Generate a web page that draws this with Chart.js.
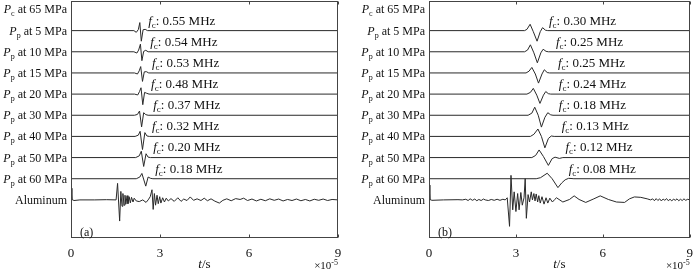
<!DOCTYPE html>
<html><head><meta charset="utf-8">
<script src="https://cdn.jsdelivr.net/npm/chart.js@4.4.0/dist/chart.umd.min.js"></script>
<style>
body{margin:0;background:#fff;}
#wrap{position:relative;width:700px;height:274px;}
canvas{position:absolute;top:0;}
</style>
</head><body>
<div id="wrap">
<canvas id="ca" width="350" height="274" style="left:0"></canvas>
<canvas id="cb" width="350" height="274" style="left:350px"></canvas>
</div>
<script>
// ---------- data ----------
const xTicks = [0, 3, 6, 9];
const rowSymbols = ['c', 'p', 'p', 'p', 'p', 'p', 'p', 'p', 'p'];
const rowPressures = [65, 5, 10, 15, 20, 30, 40, 50, 60];
const refName = 'Aluminum';
const fcA = ['0.55', '0.54', '0.53', '0.48', '0.37', '0.32', '0.20', '0.18'];
const fcB = ['0.30', '0.25', '0.25', '0.24', '0.18', '0.13', '0.12', '0.08'];

// panel (a) waveforms: [time (1e-5 s), normalised amplitude]
const a05 = [[0,0],[2.12,0],[2.2,-0.08],[2.27,0.05],[2.32,0.38],[2.37,-0.5],[2.43,0.04],[2.5,0.06],[2.58,0],[9,0]];
const a10 = [[0,0],[2.12,0],[2.22,-0.06],[2.28,0.08],[2.34,0.36],[2.39,-0.42],[2.45,0.02],[2.52,0.07],[2.6,0],[9,0]];
const a15 = [[0,0],[2.14,0],[2.24,-0.05],[2.3,0.1],[2.35,0.3],[2.41,-0.4],[2.47,0.05],[2.54,0.06],[2.62,0],[9,0]];
const a20 = [[0,0],[2.14,0],[2.25,-0.04],[2.31,0.12],[2.36,0.3],[2.42,-0.5],[2.48,0.08],[2.55,0.04],[2.63,0],[9,0]];
const a30 = [[0,0],[2.14,0],[2.24,0.04],[2.31,0.2],[2.38,-0.55],[2.45,0.12],[2.52,0.03],[2.6,0],[9,0]];
const a40 = [[0,0],[2.16,0],[2.27,0.06],[2.33,0.24],[2.41,-0.62],[2.49,0.18],[2.56,0.02],[2.64,0],[9,0]];
const a50 = [[0,0],[2.18,0],[2.3,0.08],[2.37,0.3],[2.45,-0.42],[2.53,0.18],[2.6,0.02],[2.68,0],[9,0]];
const a60 = [[0,0],[2.2,0],[2.32,0.08],[2.39,0.25],[2.52,-0.35],[2.6,0.08],[2.68,0.02],[2.76,0],[9,0]];
const aAl = [[0,0.55],[0.03,0.02],[0.1,-0.03],[0.3,0],[0.8,0],[1.2,0.01],[1.52,0],[1.57,0.78],[1.64,-1.0],[1.68,0.4],[1.72,-0.3],[1.75,0.3],[1.79,-0.25],[1.82,0.22],[1.85,-0.2],[1.89,0.2],[1.92,-0.18],[1.96,0.15],[2.0,-0.14],[2.04,0.12],[2.09,-0.1],[2.13,0.08],[2.2,-0.05],[2.3,-0.08],[2.42,0],[2.53,-0.12],[2.6,0],[2.67,0.15],[2.73,0.48],[2.77,-0.45],[2.81,0.3],[2.85,-0.25],[2.9,0.22],[2.94,-0.18],[2.99,0.15],[3.03,-0.15],[3.09,0.1],[3.15,-0.1],[3.21,0.08],[3.28,-0.05],[3.37,0.06],[3.48,-0.07],[3.6,0.1],[3.71,-0.07],[3.8,0.04],[3.91,-0.03],[4.02,0.14],[4.13,-0.02],[4.25,0.05],[4.38,-0.03],[4.49,0.08],[4.6,-0.04],[4.72,0.05],[4.85,-0.06],[5.0,-0.15],[5.12,-0.02],[5.25,0.05],[5.4,-0.04],[5.55,0.06],[5.7,0.02],[5.82,0.08],[5.95,-0.03],[6.1,0.04],[6.25,-0.05],[6.4,0.03],[6.55,-0.04],[6.7,0.05],[6.85,-0.02],[7.0,0.04],[7.15,-0.05],[7.3,0.02],[7.45,-0.03],[7.6,0.04],[7.75,-0.04],[7.9,0.02],[8.05,-0.05],[8.2,0.03],[8.35,-0.02],[8.5,0.04],[8.65,-0.03],[8.8,0.02],[9,0]];

// panel (b) waveforms
const b05 = [[0,0],[3.3,0],[3.38,0.06],[3.49,0.3],[3.6,-0.05],[3.73,-0.5],[3.84,-0.05],[3.92,0.14],[4.02,0.02],[4.1,0],[9,0]];
const b10 = [[0,0],[3.3,0],[3.4,0.08],[3.5,0.33],[3.62,-0.05],[3.74,-0.52],[3.86,-0.05],[3.94,0.12],[4.04,0.02],[4.12,0],[9,0]];
const b15 = [[0,0],[3.35,0],[3.45,0.08],[3.55,0.26],[3.67,-0.05],[3.78,-0.48],[3.9,-0.05],[3.98,0.15],[4.08,0.02],[4.16,0],[9,0]];
const b20 = [[0,0],[3.38,0],[3.5,0.08],[3.6,0.27],[3.72,-0.05],[3.83,-0.44],[3.95,-0.05],[4.03,0.12],[4.12,0.02],[4.2,0],[9,0]];
const b30 = [[0,0],[3.42,0],[3.55,0.1],[3.65,0.38],[3.77,0],[3.88,-0.56],[4.0,-0.1],[4.1,0.12],[4.2,0.02],[4.28,0],[9,0]];
const b40 = [[0,0],[3.5,0],[3.62,0.1],[3.76,0.35],[3.88,0],[4.0,-0.54],[4.12,-0.1],[4.22,0.02],[4.32,0],[9,0]];
const b50 = [[0,0],[3.55,0],[3.68,0.1],[3.8,0.36],[3.95,0.05],[4.12,-0.37],[4.25,-0.05],[4.35,0.02],[4.5,-0.04],[4.62,0],[9,0]];
const b60 = [[0,0],[3.7,0],[3.85,0.05],[4.08,0.26],[4.25,0],[4.45,-0.42],[4.58,-0.2],[4.7,-0.05],[4.82,0.02],[5.0,0],[9,0]];
const bAl = [[0,0.7],[0.03,0.02],[0.1,-0.02],[0.5,0],[1.0,0.01],[1.15,0],[1.27,0.03],[1.35,-0.03],[1.42,0.05],[1.5,-0.02],[1.58,0.04],[1.65,-0.04],[1.72,0.02],[1.8,-0.03],[1.88,0.04],[1.94,0],[2.05,-0.03],[2.15,0.02],[2.25,-0.02],[2.35,0.03],[2.45,-0.02],[2.55,0.03],[2.63,0],[2.7,0.1],[2.78,-1.25],[2.83,1.16],[2.89,-0.47],[2.94,0.38],[3.0,-0.55],[3.06,0.3],[3.11,-0.47],[3.17,0.35],[3.22,-0.25],[3.28,0.1],[3.32,1.0],[3.36,-0.87],[3.42,0.25],[3.47,-0.1],[3.53,0.38],[3.57,0],[3.62,0.3],[3.66,-0.05],[3.7,0.28],[3.75,-0.1],[3.79,0.2],[3.84,-0.15],[3.9,0.15],[3.97,-0.2],[4.04,0.1],[4.1,-0.15],[4.17,0.08],[4.26,-0.1],[4.34,0.02],[4.4,0.1],[4.62,-0.1],[4.85,0.02],[5.01,0.19],[5.18,0.02],[5.41,-0.12],[5.69,0.05],[5.91,0.19],[6.19,0.02],[6.47,-0.1],[6.75,-0.12],[6.92,0.05],[7.09,0.14],[7.31,0.12],[7.53,0.05],[7.65,0],[7.72,0.05],[7.78,-0.04],[7.84,0.06],[7.9,-0.03],[7.96,0.05],[8.02,-0.05],[8.08,0.04],[8.14,-0.02],[8.2,0.06],[8.26,-0.04],[8.32,0.03],[8.38,-0.05],[8.44,0.04],[8.5,-0.02],[8.56,0.05],[8.62,-0.04],[8.68,0.03],[8.74,-0.03],[8.8,0.05],[8.86,-0.02],[8.93,0.03],[9,0]];

// ---------- layout / style ----------
const FAM = '"Liberation Serif","DejaVu Serif","Times New Roman",serif';
const rowValues = [9, 8, 7, 6, 5, 4, 3, 2, 1, 0]; // row index -> y value (Pc row, Pp rows, Aluminum)
const fcXA = [2.60, 2.67, 2.73, 2.70, 2.77, 2.73, 2.77, 2.84];
const fcXB = [4.14, 4.38, 4.45, 4.48, 4.48, 4.58, 4.71, 4.82];
const LINE = '#2a2a2a';
const TXT = '#111';

function rich(ctx, parts, x, y, align) {
  let w = 0;
  parts.forEach(p => { ctx.font = p.f; p.w = ctx.measureText(p.t).width; w += p.w; });
  let cx = align === 'right' ? x - w : (align === 'center' ? x - w / 2 : x);
  ctx.textAlign = 'left';
  ctx.textBaseline = 'alphabetic';
  ctx.fillStyle = TXT;
  parts.forEach(p => { ctx.font = p.f; ctx.fillText(p.t, cx, y + (p.dy || 0)); cx += p.w; });
}

function decor(tag, fcs, fcX) {
  return {
    id: 'decor' + tag,
    afterDraw(chart) {
      const ctx = chart.ctx, a = chart.chartArea;
      const xs = chart.scales.x, ys = chart.scales.y;
      ctx.save();
      // frame
      ctx.strokeStyle = '#444';
      ctx.lineWidth = 1;
      const L = Math.round(a.left) + 0.5, R = Math.round(a.right) - 0.5;
      const T = Math.round(a.top) + 0.5, B = Math.round(a.bottom) - 0.5;
      ctx.strokeRect(L, T, R - L, B - T);
      // inward ticks
      ctx.beginPath();
      xTicks.forEach(v => {
        const px = Math.round(xs.getPixelForValue(v)) + 0.5;
        ctx.moveTo(px, B); ctx.lineTo(px, B - 3);
        ctx.moveTo(px, T); ctx.lineTo(px, T + 3);
      });
      ctx.stroke();
      // row labels
      const f12 = '12px ' + FAM, f12i = 'italic 12px ' + FAM, f8 = '8px ' + FAM;
      rowPressures.forEach((pr, i) => {
        const py = ys.getPixelForValue(rowValues[i]) + 4;
        rich(ctx, [
          { t: 'P', f: f12i },
          { t: rowSymbols[i], f: f8, dy: 3 },
          { t: ' at ' + pr + ' MPa', f: f12 }
        ], a.left - 4, py, 'right');
      });
      rich(ctx, [{ t: refName, f: f12 }], a.left - 4, ys.getPixelForValue(rowValues[9]) + 4, 'right');
      // fc annotations
      const f13 = '13px ' + FAM, f13i = 'italic 13px ' + FAM, f9 = '9px ' + FAM;
      fcs.forEach((fc, i) => {
        const px = xs.getPixelForValue(fcX[i]);
        const py = ys.getPixelForValue(rowValues[i + 1] + 0.5) + 4.5;
        rich(ctx, [
          { t: 'f', f: f13i },
          { t: 'c', f: f9, dy: 3 },
          { t: ': ' + fc + ' MHz', f: f13 }
        ], px, py, 'left');
      });
      // axis title
      const cx = (a.left + a.right) / 2;
      rich(ctx, [{ t: 't', f: f13i }, { t: '/s', f: f13 }], cx, 268, 'center');
      // exponent
      rich(ctx, [{ t: '\u00d710', f: '11px ' + FAM }, { t: '-5', f: '8px ' + FAM, dy: -4 }], a.right, 269, 'right');
      // panel tag
      rich(ctx, [{ t: '(' + tag + ')', f: f12 }], a.left + 9, 236, 'left');
      ctx.restore();
    }
  };
}

function makeChart(id, traces, fcs, fcX, tag, pad) {
  const datasets = traces.map((tr, i) => ({
    data: tr.map(p => ({ x: p[0], y: p[1] + rowValues[i + 1] })),
    borderColor: LINE, borderWidth: 1, pointRadius: 0, tension: 0, fill: false
  }));
  return new Chart(document.getElementById(id), {
    type: 'line',
    data: { datasets },
    options: {
      responsive: false, animation: false, devicePixelRatio: 1,
      layout: { padding: pad },
      plugins: { legend: { display: false }, tooltip: { enabled: false } },
      scales: {
        x: {
          type: 'linear', min: 0, max: 9,
          grid: { display: false, drawTicks: false },
          border: { display: false },
          ticks: { stepSize: 3, padding: 7, color: TXT, font: { family: FAM, size: 13 } },
          afterBuildTicks: s => { s.ticks = xTicks.map(v => ({ value: v })); }
        },
        y: { display: false, min: -1.82, max: 9.40 }
      }
    },
    plugins: [decor(tag, fcs, fcX)]
  });
}

makeChart('ca', [a05, a10, a15, a20, a30, a40, a50, a60, aAl], fcA, fcXA, 'a', { left: 71, right: 12, top: 1, bottom: 6 });
makeChart('cb', [b05, b10, b15, b20, b30, b40, b50, b60, bAl], fcB, fcXB, 'b', { left: 79, right: 3, top: 1, bottom: 6 });
</script>
</body></html>
